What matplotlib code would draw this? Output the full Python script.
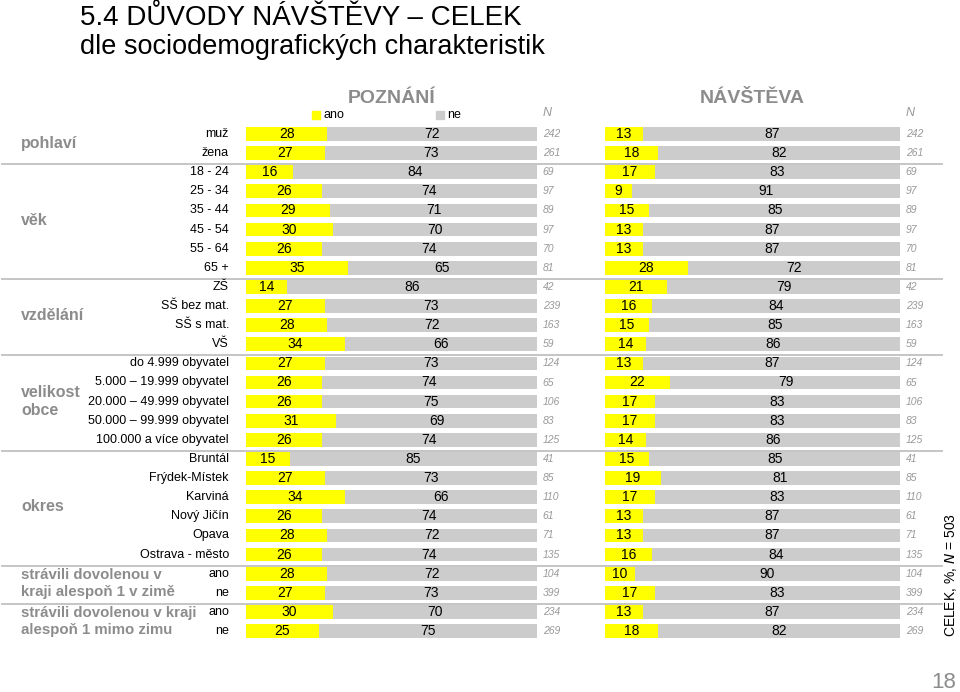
import matplotlib
matplotlib.use('Agg')
import matplotlib.pyplot as plt
import numpy as np

plt.rcParams['font.family'] = ['Liberation Sans', 'DejaVu Sans']

categories = ['muž', 'žena', '18 - 24', '25 - 34', '35 - 44', '45 - 54', '55 - 64', '65 +',
              'ZŠ', 'SŠ bez mat.', 'SŠ s mat.', 'VŠ',
              'do 4.999 obyvatel', '5.000 – 19.999 obyvatel', '20.000 – 49.999 obyvatel',
              '50.000 – 99.999 obyvatel', '100.000 a více obyvatel',
              'Bruntál', 'Frýdek-Místek', 'Karviná', 'Nový Jičín', 'Opava', 'Ostrava - město',
              'ano', 'ne', 'ano', 'ne']
poznani_ano = [28, 27, 16, 26, 29, 30, 26, 35, 14, 27, 28, 34, 27, 26, 26, 31, 26,
               15, 27, 34, 26, 28, 26, 28, 27, 30, 25]
poznani_ne = [72, 73, 84, 74, 71, 70, 74, 65, 86, 73, 72, 66, 73, 74, 75, 69, 74,
              85, 73, 66, 74, 72, 74, 72, 73, 70, 75]
navsteva_ano = [13, 18, 17, 9, 15, 13, 13, 28, 21, 16, 15, 14, 13, 22, 17, 17, 14,
                15, 19, 17, 13, 13, 16, 10, 17, 13, 18]
navsteva_ne = [87, 82, 83, 91, 85, 87, 87, 72, 79, 84, 85, 86, 87, 79, 83, 83, 86,
               85, 81, 83, 87, 87, 84, 90, 83, 87, 82]
n_values = [242, 261, 69, 97, 89, 97, 70, 81, 42, 239, 163, 59, 124, 65, 106, 83, 125,
            41, 85, 110, 61, 71, 135, 104, 399, 234, 269]
# group name, first row, last row
groups = [('pohlaví', 0, 1), ('věk', 2, 7), ('vzdělání', 8, 11), ('velikost\nobce', 12, 16),
          ('okres', 17, 22), ('strávili dovolenou v\nkraji alespoň 1 v zimě', 23, 24),
          ('strávili dovolenou v kraji\nalespoň 1 mimo zimu', 25, 26)]

W, H = 960, 692
YELLOW = '#ffff00'
GREY = '#cccccc'
LINE = '#c0c0c0'
TITLE_GREY = '#8c8c8c'

fig = plt.figure(figsize=(W / 100, H / 100), dpi=100)

n = len(categories)
row_top, row_bot = 134, 631
step = (row_bot - row_top) / (n - 1)
ax_top = row_top - step / 2
ax_bot = row_bot + step / 2
bottom = 1 - ax_bot / H
height = (ax_bot - ax_top) / H
ylim = (n - 0.5, -0.5)

# background axes for separators and labels
bg = fig.add_axes([0, bottom, 1, height], zorder=0)
bg.set_xlim(0, W)
bg.set_ylim(*ylim)
bg.axis('off')
for g in groups[:-1]:
    bg.plot([2, 942], [g[2] + 0.58, g[2] + 0.58], color=LINE, lw=1.3)

for i, c in enumerate(categories):
    bg.text(229, i, c, ha='right', va='center', fontsize=9, color='black')

for name, a, b in groups:
    ymid = (a + b) / 2
    fs = 10.8 if name.startswith('strávili') else 11.5
    bg.text(21, ymid, name, ha='left', va='center', fontsize=fs, fontweight='bold',
            color=TITLE_GREY, linespacing=1.3)


def panel(left, width, ano, ne, title, legend):
    ax = fig.add_axes([left / W, bottom, width / W, height], zorder=1)
    y = np.arange(n)
    ax.barh(y, ano, height=0.72, color=YELLOW)
    ax.barh(y, ne, left=ano, height=0.72, color=GREY)
    for i in range(n):
        ax.text(ano[i] / 2, i, str(ano[i]), ha='center', va='center', fontsize=10)
        ax.text(ano[i] + ne[i] / 2, i, str(ne[i]), ha='center', va='center', fontsize=10)
        ax.text(102, i, str(n_values[i]), ha='left', va='center', fontsize=7.5,
                style='italic', color='#999999', clip_on=False)
    ax.set_xlim(0, 100)
    ax.set_ylim(*ylim)
    ax.axis('off')
    ax.text(102, -1.1, 'N', ha='left', va='center', fontsize=9, style='italic',
            color='#999999', clip_on=False)
    ax.text(50, -1.85, title, ha='center', va='center', fontsize=14, fontweight='bold',
            color=TITLE_GREY, clip_on=False)
    if legend:
        ax.scatter([24], [-1.0], marker='s', s=40, color=YELLOW, clip_on=False)
        ax.text(26.5, -1.0, 'ano', ha='left', va='center', fontsize=9, clip_on=False)
        ax.scatter([66.5], [-1.0], marker='s', s=40, color=GREY, clip_on=False)
        ax.text(69, -1.0, 'ne', ha='left', va='center', fontsize=9, clip_on=False)
    return ax


panel(246, 291, poznani_ano, poznani_ne, 'POZNÁNÍ', True)
panel(605, 295, navsteva_ano, navsteva_ne, 'NÁVŠTĚVA', False)

fig.text(80 / W, 1 - 18 / H, '5.4 DŮVODY NÁVŠTĚVY – CELEK', ha='left', va='center',
         fontsize=20, color='black')
fig.text(80 / W, 1 - 47 / H, 'dle sociodemografických charakteristik', ha='left', va='center',
         fontsize=19.5, color='black')
fig.text(951 / W, 1 - 575 / H, 'CELEK, %, $\\it{N}$ = 503', rotation=90, ha='center',
         va='center', fontsize=10, color='black')
fig.text(944 / W, 1 - 683 / H, '18', ha='center', va='center', fontsize=16, color='#8c8c8c')

fig.savefig('out.png', dpi=100)
